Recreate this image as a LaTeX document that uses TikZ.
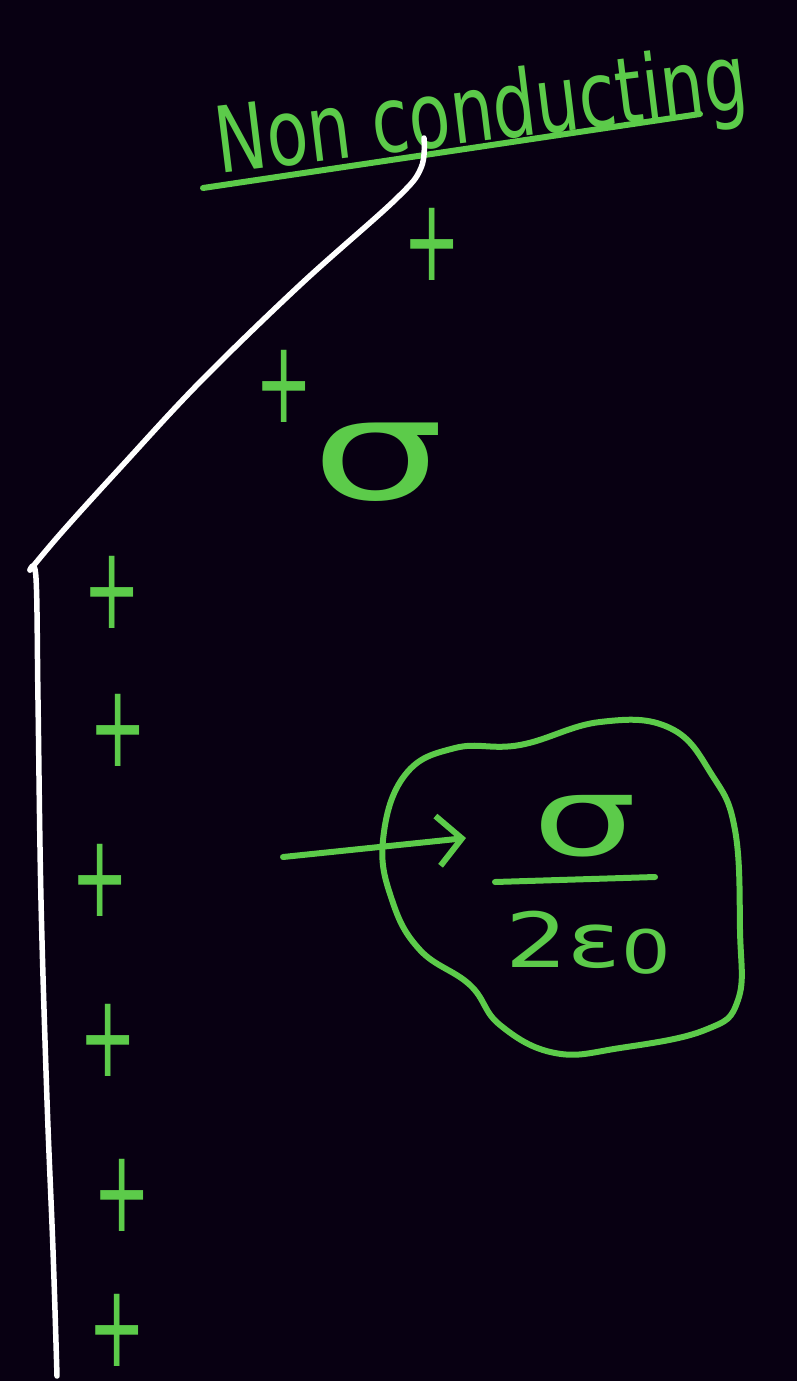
\documentclass[tikz,border=0pt]{standalone}
\usepackage{fontspec}
\setmainfont{DejaVu Sans}
\usetikzlibrary{arrows.meta}
\definecolor{bg}{HTML}{080012}
\definecolor{chalk}{HTML}{5CCB4A}
\tikzset{
  ink/.style={draw=chalk,line width=6pt,line cap=round,line join=round},
  wire/.style={draw=white,line width=5.5pt,line cap=round,line join=round},
  charge/.style={text=chalk,inner sep=0pt,font=\fontsize{72}{72}\selectfont},
  lbl/.style={text=chalk,inner sep=0pt}
}
\newcommand{\plussign}{\scalebox{0.95}[1.6]{+}}
\begin{document}
\begin{tikzpicture}[x=1pt,y=-1pt]
  \useasboundingbox (0,0) rectangle (797,1381);
  \fill[bg] (0,0) rectangle (797,1381);

  % title and underline
  \node[lbl,rotate=7,font=\fontsize{68}{68}\selectfont] (title) at (482,116)
     {\scalebox{1}[1.35]{Non conducting}};
  \coordinate (ulA) at (203,188);
  \coordinate (ulB) at (700,114);
  \draw[ink] (ulA) -- (ulB);

  % the sheet (white)
  \draw[wire] plot[smooth,tension=0.6] coordinates
     {(424,138) (421,168) (395,200) (300,285) (200,382) (120,468) (62,532) (30,570)};
  \draw[wire] plot[smooth,tension=0.6] coordinates
     {(30,570) (36,578) (38,700) (41,900) (47,1100) (53,1250) (57,1376)};

  % charges
  \node[charge] (p1) at (432,244) {\plussign};
  \node[charge] (p2) at (284,386) {\plussign};
  \node[charge] (p3) at (112,592) {\plussign};
  \node[charge] (p4) at (118,730) {\plussign};
  \node[charge] (p5) at (100,880) {\plussign};
  \node[charge] (p6) at (108,1040) {\plussign};
  \node[charge] (p7) at (122,1195) {\plussign};
  \node[charge] (p8) at (117,1330) {\plussign};

  % sigma on the sheet
  \node[lbl,font=\fontsize{140}{140}\selectfont] (sig) at (378,462)
     {\scalebox{1.5}[1]{σ}};

  % blob around the result
  \draw[ink] plot[smooth cycle,tension=0.7] coordinates
     {(383,840) (405,775) (455,748) (520,745) (600,722) (670,728) (712,775)
      (735,830) (740,930) (738,1000) (705,1030) (620,1048) (555,1053)
      (500,1025) (470,985) (420,950) (392,900)};

  % result
  \node[lbl,font=\fontsize{110}{110}\selectfont] (num) at (585,826)
     {\scalebox{1.5}[1]{σ}};
  \coordinate (barA) at (495,882);
  \coordinate (barB) at (655,877);
  \draw[ink] (barA) -- (barB);
  \node[lbl,font=\fontsize{76}{76}\selectfont] (den) at (588,943)
     {\scalebox{1.3}[1]{2ε\raisebox{-0.08em}{\fontsize{60}{60}\selectfont 0}}};

  % arrow
  \coordinate (arA) at (283,857);
  \coordinate (arB) at (466,838);
  \draw[ink,-{Straight Barb[length=24pt,width=50pt,line width=6pt]}] (arA) -- (arB);
\end{tikzpicture}
\end{document}
